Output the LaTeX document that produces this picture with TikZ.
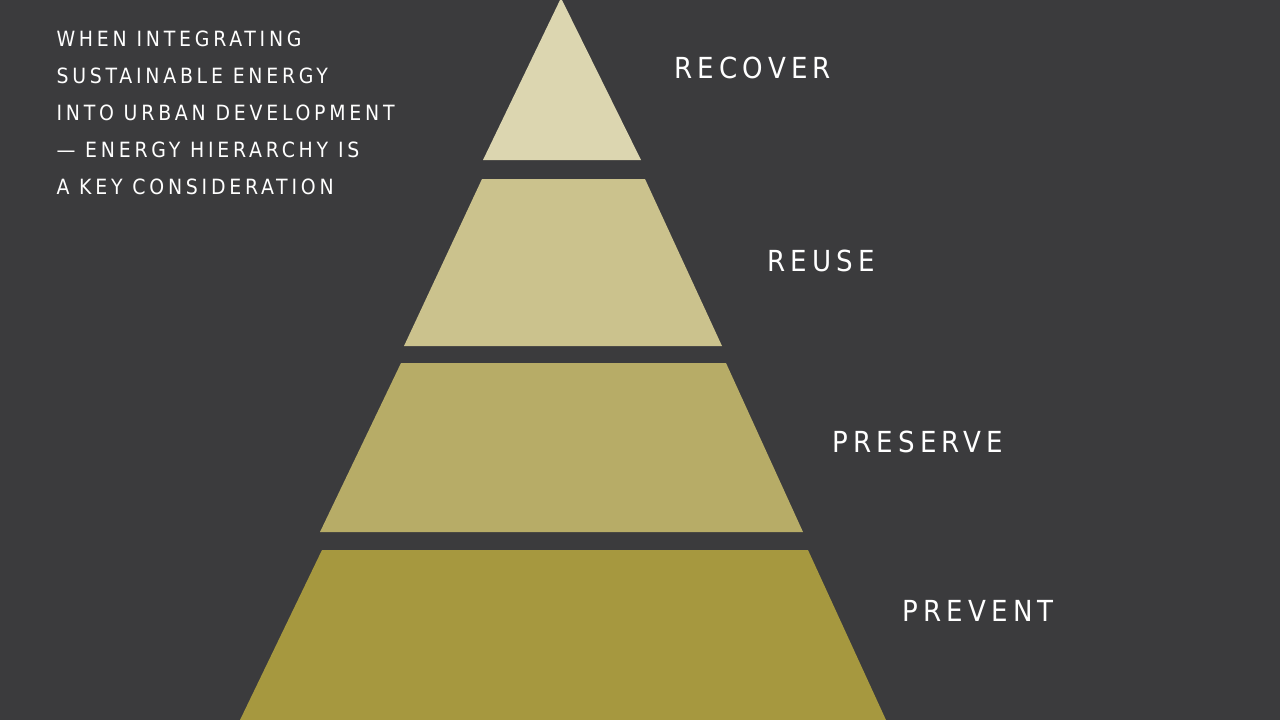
\documentclass[tikz,border=0pt]{standalone}
\usepackage{fontspec}
\setmainfont{DejaVu Sans Condensed}[LetterSpace=18]
\definecolor{bg}{HTML}{3B3B3D}
\definecolor{ta}{HTML}{DCD6B0}
\definecolor{tb}{HTML}{CBC28D}
\definecolor{tc}{HTML}{B7AC67}
\definecolor{td}{HTML}{A6983F}
\begin{document}
\begin{tikzpicture}[x=1pt,y=-1pt,
  lbl/.style={text=white,anchor=west,font=\fontsize{29}{29}\selectfont},
  intro/.style={text=white,anchor=north west,align=left,font=\fontsize{21}{37}\selectfont}]
\fill[bg] (0,0) rectangle (1280,720);
\useasboundingbox (0,0) rectangle (1280,720);
\fill[ta] (561,-2) -- (641,160) -- (483,160) -- cycle;
\fill[tb] (482,179) -- (645,179) -- (722,346) -- (404,346) -- cycle;
\fill[tc] (401,363) -- (726,363) -- (803,532) -- (320,532) -- cycle;
\fill[td] (322,550) -- (808,550) -- (886,720) -- (240,720) -- cycle;
\node[lbl] (l1) at (671,68) {RECOVER};
\node[lbl] (l2) at (764,261) {REUSE};
\node[lbl] (l3) at (829,442) {PRESERVE};
\node[lbl] (l4) at (899,611) {PREVENT};
\node[intro] (t) at (53,27) {WHEN INTEGRATING\\SUSTAINABLE ENERGY\\INTO URBAN DEVELOPMENT\\— ENERGY HIERARCHY IS\\A KEY CONSIDERATION};
\end{tikzpicture}
\end{document}
